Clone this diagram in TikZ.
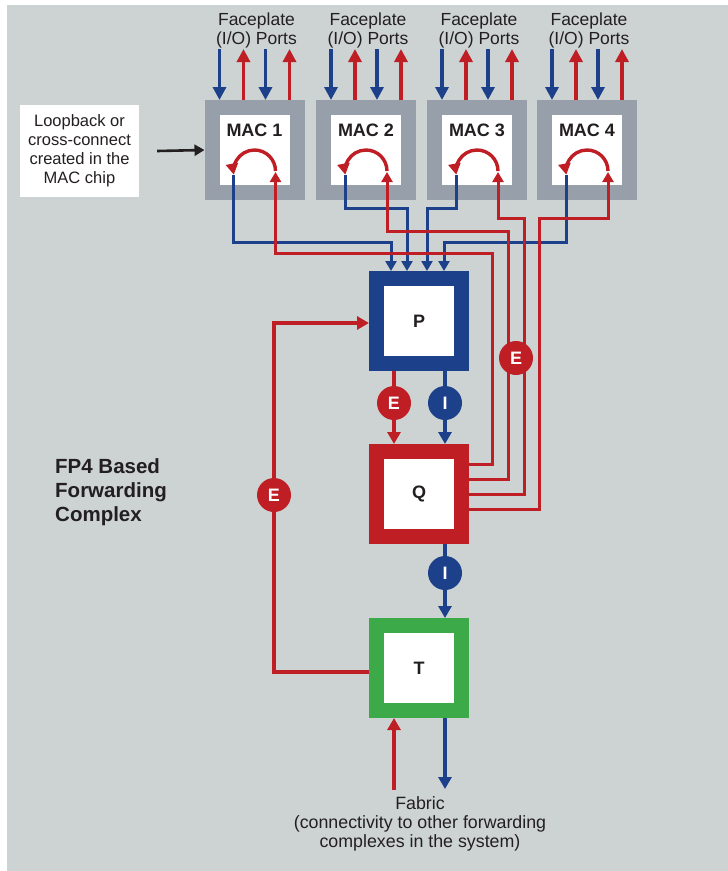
\documentclass[tikz,border=0pt]{standalone}
\usepackage{fontspec}
\setmainfont{Liberation Sans}
\usetikzlibrary{arrows.meta,calc,positioning}
\definecolor{bggrey}{HTML}{CDD3D3}
\definecolor{macgrey}{HTML}{97A0AA}
\definecolor{pblue}{HTML}{1D408B}
\definecolor{qred}{HTML}{BF1E25}
\definecolor{tgreen}{HTML}{3CAA49}
\definecolor{ink}{HTML}{231F20}

\tikzset{
  chip/.style={draw=#1,fill=white,line width=15pt,minimum width=85pt,minimum height=85pt,
    inner sep=0pt,text=ink,font=\fontsize{18}{20}\selectfont\bfseries},
  chiptext/.style={text=ink,inner sep=0pt,font=\fontsize{18}{20}\selectfont\bfseries},
  plain/.style={text=ink,align=center,inner sep=0pt,font=\fontsize{17.5}{19}\selectfont},
  badge/.style={circle,fill=#1,text=white,minimum size=34pt,inner sep=0pt,
    font=\fontsize{18}{20}\selectfont\bfseries},
  portin/.style={pblue,line width=3.4pt,-{Triangle[width=13pt,length=13pt]}},
  portout/.style={qred,line width=3.4pt,-{Triangle[width=13pt,length=13pt]}},
  bluewire/.style={pblue,line width=3pt,-{Triangle[width=11pt,length=10pt]}},
  redwire/.style={qred,line width=3pt,-{Triangle[width=11pt,length=10pt]}},
  bluelink/.style={pblue,line width=3.4pt,-{Triangle[width=13pt,length=12pt]}},
  redlink/.style={qred,line width=3.4pt,-{Triangle[width=13pt,length=12pt]}},
  uturn/.style={qred,line width=3.4pt,-{Triangle[width=12pt,length=11pt]}},
}

\begin{document}
\begin{tikzpicture}[x=1pt,y=-1pt]
\useasboundingbox (0,0) rectangle (728,871);
\fill[bggrey] (7,5) rectangle (728,871);

% MAC chips
\node[chip=macgrey] (mac1) at (254.5,150) {};
\node[chip=macgrey] (mac2) at (366,150) {};
\node[chip=macgrey] (mac3) at (477,150) {};
\node[chip=macgrey] (mac4) at (587,150) {};
\node[chiptext] (mac1lbl) at ($(mac1)+(0,-20)$) {MAC 1};
\node[chiptext] (mac2lbl) at ($(mac2)+(0,-20)$) {MAC 2};
\node[chiptext] (mac3lbl) at ($(mac3)+(0,-20)$) {MAC 3};
\node[chiptext] (mac4lbl) at ($(mac4)+(0,-20)$) {MAC 4};

% forwarding complex
\node[chip=pblue] (P) at (419,321) {P};
\node[chip=qred] (Q) at (419,494) {Q};
\node[chip=tgreen] (T) at (419,668) {T};

% faceplate ports
\node[plain] (fp1) at ($(mac1.north)+(2,-70)$) {Faceplate\\(I/O) Ports};
\node[plain] (fp2) at ($(mac2.north)+(2,-70)$) {Faceplate\\(I/O) Ports};
\node[plain] (fp3) at ($(mac3.north)+(2,-70)$) {Faceplate\\(I/O) Ports};
\node[plain] (fp4) at ($(mac4.north)+(2,-70)$) {Faceplate\\(I/O) Ports};
\draw[portin] ($(mac1.north)+(-35,-51)$) -- ($(mac1.north)+(-35,0)$);
\draw[portout] ($(mac1.north)+(-11,0)$) -- ($(mac1.north)+(-11,-51)$);
\draw[portin] ($(mac1.north)+(11,-51)$) -- ($(mac1.north)+(11,0)$);
\draw[portout] ($(mac1.north)+(35,0)$) -- ($(mac1.north)+(35,-51)$);
\draw[portin] ($(mac2.north)+(-35,-51)$) -- ($(mac2.north)+(-35,0)$);
\draw[portout] ($(mac2.north)+(-11,0)$) -- ($(mac2.north)+(-11,-51)$);
\draw[portin] ($(mac2.north)+(11,-51)$) -- ($(mac2.north)+(11,0)$);
\draw[portout] ($(mac2.north)+(35,0)$) -- ($(mac2.north)+(35,-51)$);
\draw[portin] ($(mac3.north)+(-35,-51)$) -- ($(mac3.north)+(-35,0)$);
\draw[portout] ($(mac3.north)+(-11,0)$) -- ($(mac3.north)+(-11,-51)$);
\draw[portin] ($(mac3.north)+(11,-51)$) -- ($(mac3.north)+(11,0)$);
\draw[portout] ($(mac3.north)+(35,0)$) -- ($(mac3.north)+(35,-51)$);
\draw[portin] ($(mac4.north)+(-35,-51)$) -- ($(mac4.north)+(-35,0)$);
\draw[portout] ($(mac4.north)+(-11,0)$) -- ($(mac4.north)+(-11,-51)$);
\draw[portin] ($(mac4.north)+(11,-51)$) -- ($(mac4.north)+(11,0)$);
\draw[portout] ($(mac4.north)+(35,0)$) -- ($(mac4.north)+(35,-51)$);

% loopback inside the MACs
\draw[uturn] ($(mac1)+(21,21)$) arc[start angle=0,end angle=-190,radius=21];
\draw[uturn] ($(mac2)+(21,21)$) arc[start angle=0,end angle=-190,radius=21];
\draw[uturn] ($(mac3)+(21,21)$) arc[start angle=0,end angle=-190,radius=21];
\draw[uturn] ($(mac4)+(21,21)$) arc[start angle=0,end angle=-190,radius=21];

% MAC to P
\coordinate (p1) at ($(P.north)+(-28,0)$);
\coordinate (p2) at ($(P.north)+(-12,0)$);
\coordinate (p3) at ($(P.north)+(8,0)$);
\coordinate (p4) at ($(P.north)+(25,0)$);
\draw[bluewire] ($(mac1)+(-21,25)$) |- ($(p1)+(0,-29)$) -- (p1);
\draw[bluewire] ($(mac2)+(-21,25)$) |- ($(p2)+(0,-63)$) -- (p2);
\draw[bluewire] ($(mac3)+(-21,25)$) |- ($(p3)+(0,-63)$) -- (p3);
\draw[bluewire] ($(mac4)+(-21,25)$) |- ($(p4)+(0,-29)$) -- (p4);

% Q back to the MACs
\draw[redwire] ($(Q.east)+(0,-30)$) -| (492,253) -| ($(mac1)+(21,22)$);
\draw[redwire] ($(Q.east)+(0,-15)$) -| (508,231) -| ($(mac2)+(21,22)$);
\draw[redwire] ($(Q.east)+(0,0)$) -| (524,218) -| ($(mac3)+(21,22)$);
\draw[redwire] ($(Q.east)+(0,15)$) -| (539,218) -| ($(mac4)+(21,22)$);

% P, Q, T
\draw[redlink] ($(P.south)+(-25,0)$) -- ($(Q.north)+(-25,0)$);
\draw[bluelink] ($(P.south)+(26,0)$) -- ($(Q.north)+(26,0)$);
\draw[bluelink] ($(Q.south)+(26,0)$) -- ($(T.north)+(26,0)$);
\coordinate (lp) at (274,323);
\draw[redlink] ($(T.west)+(0,4)$) -| (lp) -- ($(P.west)+(0,2)$);
\draw[redlink] ($(T.south)+(-25,72)$) -- ($(T.south)+(-25,0)$);
\draw[bluelink] ($(T.south)+(26,0)$) -- ($(T.south)+(26,71)$);

\node[badge=qred] (e1) at ($(P.south)+(-25,32)$) {E};
\node[badge=pblue] (i1) at ($(P.south)+(26,32)$) {I};
\node[badge=pblue] (i2) at ($(Q.south)+(26,29)$) {I};
\node[badge=qred] (e2) at (516,358) {E};
\node[badge=qred] (e3) at (274,495) {E};

% notes
\node[plain,fill=white,minimum width=119pt,minimum height=92pt,font=\fontsize{16.5}{19}\selectfont] (note) at (79.5,151)
  {Loopback or\\cross-connect\\created in the\\MAC chip};
\draw[ink,line width=2.6pt,-{Triangle[width=11pt,length=10pt]}] ($(note.east)+(18,0)$) -- (mac1.west);
\node[text=ink,align=left,inner sep=0pt,anchor=west,font=\fontsize{20.5}{24}\selectfont\bfseries]
  (fp4label) at (55,492) {FP4 Based\\Forwarding\\Complex};
\node[plain,font=\fontsize{17.8}{19}\selectfont] (fabric) at (420,824) {Fabric\\(connectivity to other forwarding\\complexes in the system)};
\end{tikzpicture}
\end{document}
